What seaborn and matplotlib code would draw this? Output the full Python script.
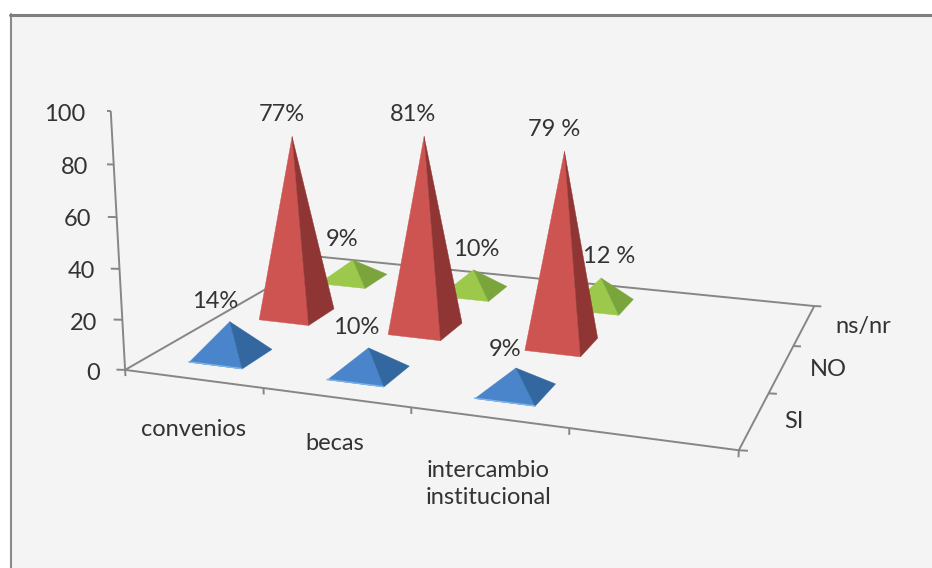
import pandas as pd
import matplotlib
matplotlib.use("Agg")
import matplotlib.pyplot as plt
from matplotlib.lines import Line2D
from matplotlib.patches import Rectangle
from mpl_toolkits.mplot3d.art3d import Poly3DCollection
import seaborn as sns

# =========================================
# DATA
# =========================================

categories = ["convenios", "becas", "intercambio\ninstitucional"]
series = ["SI", "NO", "ns/nr"]
si_values = [14, 10, 9]
no_values = [77, 81, 79]
nsnr_values = [9, 10, 12]
z_ticks = [0, 20, 40, 60, 80, 100]

si_labels = ["14%", "10%", "9%"]
no_labels = ["77%", "81%", "79 %"]
nsnr_labels = ["9%", "10%", "12 %"]

W, H = 932, 568

# =========================================
# STYLE
# =========================================

sns.set_style("white")
plt.rcParams["font.family"] = ["Lato", "DejaVu Sans"]

face_colors = sns.color_palette(["#4A84CB", "#CE5452", "#9CC84B"])
side_colors = sns.color_palette(["#33679F", "#8F3533", "#7AA53D"])
rim_color = "#7DB4EA"
line_color = "#868686"
text_color = "#333333"
font_size = 17

fig = plt.figure(figsize=(W / 100, H / 100), dpi=100, facecolor="white")
fig.add_artist(Rectangle((11 / W, 0), 1, 1 - 15 / H, transform=fig.transFigure,
                         facecolor="#F4F4F4", edgecolor="none", zorder=-2))
fig.add_artist(Line2D([11 / W, 11 / W], [0, 1 - 14 / H], color="#8A8A8A", lw=1.5, zorder=-1))
fig.add_artist(Line2D([10 / W, 1], [1 - 14.5 / H, 1 - 14.5 / H], color="#7F7F7F", lw=2.2, zorder=-1))

# camera fitted to the axis corners of the picture
ax = fig.add_axes([107.24 / W, (H - 602.12) / H, 750.26 / W, 750.26 / H],
                  projection="3d", computed_zorder=False)
ax.set_proj_type("persp", focal_length=0.388)
ax.view_init(13.831, -70.653, -0.193)
ax.set_box_aspect((2.355, 1.738, 1))
ax.set_axis_off()
ax.patch.set_alpha(0)

n_x = len(categories) + 1
n_y = len(series)
ax.set_xlim(0, n_x, view_margin=0)
ax.set_ylim(0, n_y, view_margin=0)
ax.set_zlim(0, 100, view_margin=0)

# =========================================
# FLOOR AND AXES
# =========================================

def axis_line(xs, ys, zs, lw=1.4):
    ax.plot(xs, ys, zs, color=line_color, lw=lw, zorder=1, solid_capstyle="butt")


axis_line([0, n_x, n_x, 0, 0], [0, 0, n_y, n_y, 0], [0, 0, 0, 0, 0])
axis_line([0, 0], [0, 0], [0, 100])

for z in z_ticks:
    axis_line([0, -0.055], [0, -0.015], [z, z])
for i in range(n_x + 1):
    axis_line([i, i], [0, 0], [0, -2.5])
for j in range(n_y + 1):
    axis_line([n_x, n_x + 0.05], [j, j + 0.01], [0, 0])


# =========================================
# PYRAMIDS
# =========================================

def pyramid(x, y, value, face, side, order, half_x=0.195, half_y=0.215):
    x0, x1 = x - half_x, x + half_x
    y0, y1 = y - half_y, y + half_y
    top = (x, y, value)
    front = [(x0, y0, 0), (x1, y0, 0), top]
    right = [(x1, y0, 0), (x1, y1, 0), top]
    ax.add_collection3d(Poly3DCollection([front], facecolors=[face], edgecolors=[face],
                                         linewidths=0.3, zorder=order), autolim=False)
    ax.add_collection3d(Poly3DCollection([right], facecolors=[side], edgecolors=[side],
                                         linewidths=0.3, zorder=order + 0.1), autolim=False)
    return x0, x1, y0


df = pd.DataFrame({"SI": si_values, "NO": no_values, "ns/nr": nsnr_values}, index=categories)

for j, name in reversed(list(enumerate(series))):
    for i, value in enumerate(df[name]):
        x0, x1, y0 = pyramid(i + 0.5, j + 0.5, value, face_colors[j], side_colors[j], 10 + (2 - j) * 2 + i * 0.3)
        if name == "SI":
            ax.plot([x0, x1], [y0, y0], [0, 0], color=rim_color, lw=1.0, zorder=20)


# =========================================
# TEXT
# =========================================

def put(x, y, s, ha="center"):
    fig.text(x / W, 1 - y / H, s, ha=ha, va="center", color=text_color, fontsize=font_size)


for z, right, y in zip(z_ticks, [100, 97, 95, 91, 88, 85], [373, 323, 271, 220, 168, 114]):
    put(right, y, str(z), ha="right")

for (x, y), s in zip([(215, 302), (356, 328), (505, 349)], si_labels):
    put(x, y, s)
for (x, y), s in zip([(282, 114), (413, 114), (554, 129)], no_labels):
    put(x, y, s)
for (x, y), s in zip([(342, 239), (476, 249), (609, 256)], nsnr_labels):
    put(x, y, s)

for (x, y), s in zip([(193, 429), (335, 443), (488, 484)], categories):
    fig.text(x / W, 1 - y / H, s, ha="center", va="center", color=text_color,
             fontsize=font_size, linespacing=1.3)

for (x, y), s in zip([(794, 422), (828, 370), (863, 327)], series):
    put(x, y, s)

fig.savefig("out.png", dpi=100)
